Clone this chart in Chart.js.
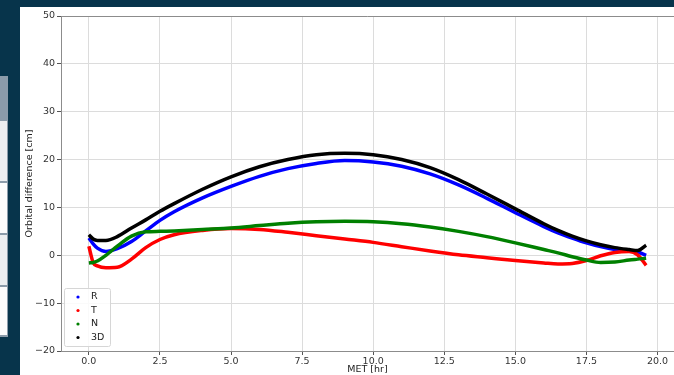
<!DOCTYPE html>
<html>
<head>
<meta charset="UTF-8"/>
<script src="https://cdn.jsdelivr.net/npm/chart.js"></script>
<style>
  html, body { margin:0; padding:0; width:674px; height:375px; overflow:hidden; background:#07344b; }
  .panel { position:absolute; left:20px; top:7px; width:654px; height:368px; background:#fff; }
  #c { position:absolute; left:20px; top:7px; }
  .side { position:absolute; left:0; top:76px; width:8px; height:261px; background:#8b9baa; }
  .side div { position:absolute; left:0; width:7px; }
</style>
</head>
<body>
<div class="side">
  <div style="top:45px;height:60px;background:#eceef1"></div>
  <div style="top:107px;height:50px;background:#fbfbfc"></div>
  <div style="top:159px;height:50px;background:#eceef1"></div>
  <div style="top:211px;height:48px;background:#fbfbfc"></div>
</div>
<div class="panel"></div>
<canvas id="c" width="654" height="368"></canvas>
<script>
// time (MET, hours)
const met = [0, 0.15, 0.3, 0.6, 1.0, 1.5, 2.0, 2.5, 3, 4, 5, 6, 7, 8, 9, 10, 11, 12, 13, 14, 15, 16, 16.5, 17, 17.5, 18, 18.5, 19, 19.3, 19.6];

// orbital difference [cm]
const rVals  = [3.6, 2.4, 1.5, 0.8, 1.4, 2.9, 5.1, 7.3, 9.1, 12.0, 14.4, 16.5, 18.1, 19.2, 19.8, 19.5, 18.6, 17.0, 14.7, 11.9, 8.9, 6.0, 4.7, 3.6, 2.6, 1.8, 1.2, 0.9, 0.7, 0.0];
const tVals  = [1.9, -1.5, -2.2, -2.6, -2.5, -0.8, 1.6, 3.3, 4.3, 5.2, 5.6, 5.4, 4.8, 4.1, 3.4, 2.7, 1.8, 0.9, 0.1, -0.5, -1.1, -1.6, -1.8, -1.7, -1.1, -0.1, 0.6, 0.8, 0.1, -2.1];
const nVals  = [-1.6, -1.5, -1.2, 0.0, 1.9, 4.0, 4.9, 5.0, 5.1, 5.4, 5.7, 6.2, 6.7, 7.0, 7.1, 7.0, 6.6, 5.9, 5.0, 3.9, 2.6, 1.2, 0.5, -0.3, -1.0, -1.5, -1.4, -1.0, -0.8, -0.6];
const d3Vals = [4.3, 3.4, 3.1, 3.1, 3.9, 5.7, 7.4, 9.2, 10.8, 13.8, 16.4, 18.5, 20.0, 21.0, 21.3, 21.0, 20.0, 18.3, 15.8, 12.8, 9.7, 6.6, 5.2, 4.0, 3.0, 2.2, 1.6, 1.2, 1.0, 2.1];

const seriesNames = ['R', 'T', 'N', '3D'];
const seriesColors = ['#0000ff', '#ff0000', '#008000', '#000000'];
const seriesValues = [rVals, tVals, nVals, d3Vals];

const xTicks = [0, 2.5, 5, 7.5, 10, 12.5, 15, 17.5, 20];
const yTicks = [-20, -10, 0, 10, 20, 30, 40, 50];

const font = { family: 'DejaVu Sans', size: 9.5 };
const gridColor = '#dcdcdc';
const spine = '#8c8c8c';

const datasets = seriesValues.map((vals, i) => ({
  label: seriesNames[i],
  data: met.map((t, k) => ({ x: t, y: vals[k] })),
  borderColor: seriesColors[i],
  backgroundColor: seriesColors[i],
  borderWidth: 3.5,
  pointRadius: 0,
  cubicInterpolationMode: 'monotone',
  fill: false,
  order: 4 - i
}));

// top spine + legend box in lower-left
const extras = {
  id: 'extras',
  afterDatasetsDraw(chart) {
    const { ctx, chartArea: a } = chart;
    ctx.save();
    ctx.strokeStyle = spine;
    ctx.lineWidth = 1;
    ctx.beginPath();
    ctx.moveTo(a.left, a.top + 0.5);
    ctx.lineTo(a.right, a.top + 0.5);
    ctx.stroke();

    const bx = a.left + 3, by = a.bottom - 63, bw = 46, bh = 58;
    ctx.fillStyle = 'rgba(255,255,255,0.85)';
    ctx.strokeStyle = '#d6d6d6';
    ctx.beginPath();
    ctx.roundRect(bx + 0.5, by + 0.5, bw, bh, 2);
    ctx.fill();
    ctx.stroke();
    ctx.font = '9.5px "DejaVu Sans"';
    ctx.textBaseline = 'middle';
    seriesNames.forEach((name, i) => {
      const yy = by + 9 + i * 13.5;
      ctx.fillStyle = seriesColors[i];
      ctx.beginPath();
      ctx.arc(bx + 14, yy, 1.6, 0, Math.PI * 2);
      ctx.fill();
      ctx.fillStyle = '#222';
      ctx.fillText(name, bx + 27, yy);
    });
    ctx.restore();
  }
};

new Chart(document.getElementById('c'), {
  type: 'line',
  data: { datasets },
  plugins: [extras],
  options: {
    responsive: false,
    animation: false,
    devicePixelRatio: 1,
    layout: { padding: { top: 9, right: 0, left: 0, bottom: 0 } },
    plugins: { legend: { display: false }, tooltip: { enabled: false } },
    scales: {
      x: {
        type: 'linear',
        min: -0.98,
        max: 20.58,
        afterBuildTicks: s => { s.ticks = xTicks.map(v => ({ value: v })); },
        afterFit: s => { s.height = 24; },
        ticks: { font, color: '#333', padding: 1, maxRotation: 0, callback: v => v.toFixed(1) },
        grid: { color: gridColor, tickColor: '#555', tickLength: 4 },
        border: { color: spine, width: 1 },
        title: { display: true, text: 'MET [hr]', font, color: '#222', padding: { top: 0, bottom: 0 } }
      },
      y: {
        min: -20,
        max: 50,
        afterBuildTicks: s => { s.ticks = yTicks.map(v => ({ value: v })); },
        afterFit: s => { s.width = 41; },
        ticks: { font, color: '#333', padding: 2, callback: v => (v < 0 ? '\u2212' + Math.abs(v) : String(v)) },
        grid: { color: gridColor, tickColor: '#555', tickLength: 4 },
        border: { color: spine, width: 1 },
        title: { display: true, text: 'Orbital difference [cm]', font, color: '#222', padding: { top: 4, bottom: 0 } }
      }
    }
  }
});
</script>
</body>
</html>
